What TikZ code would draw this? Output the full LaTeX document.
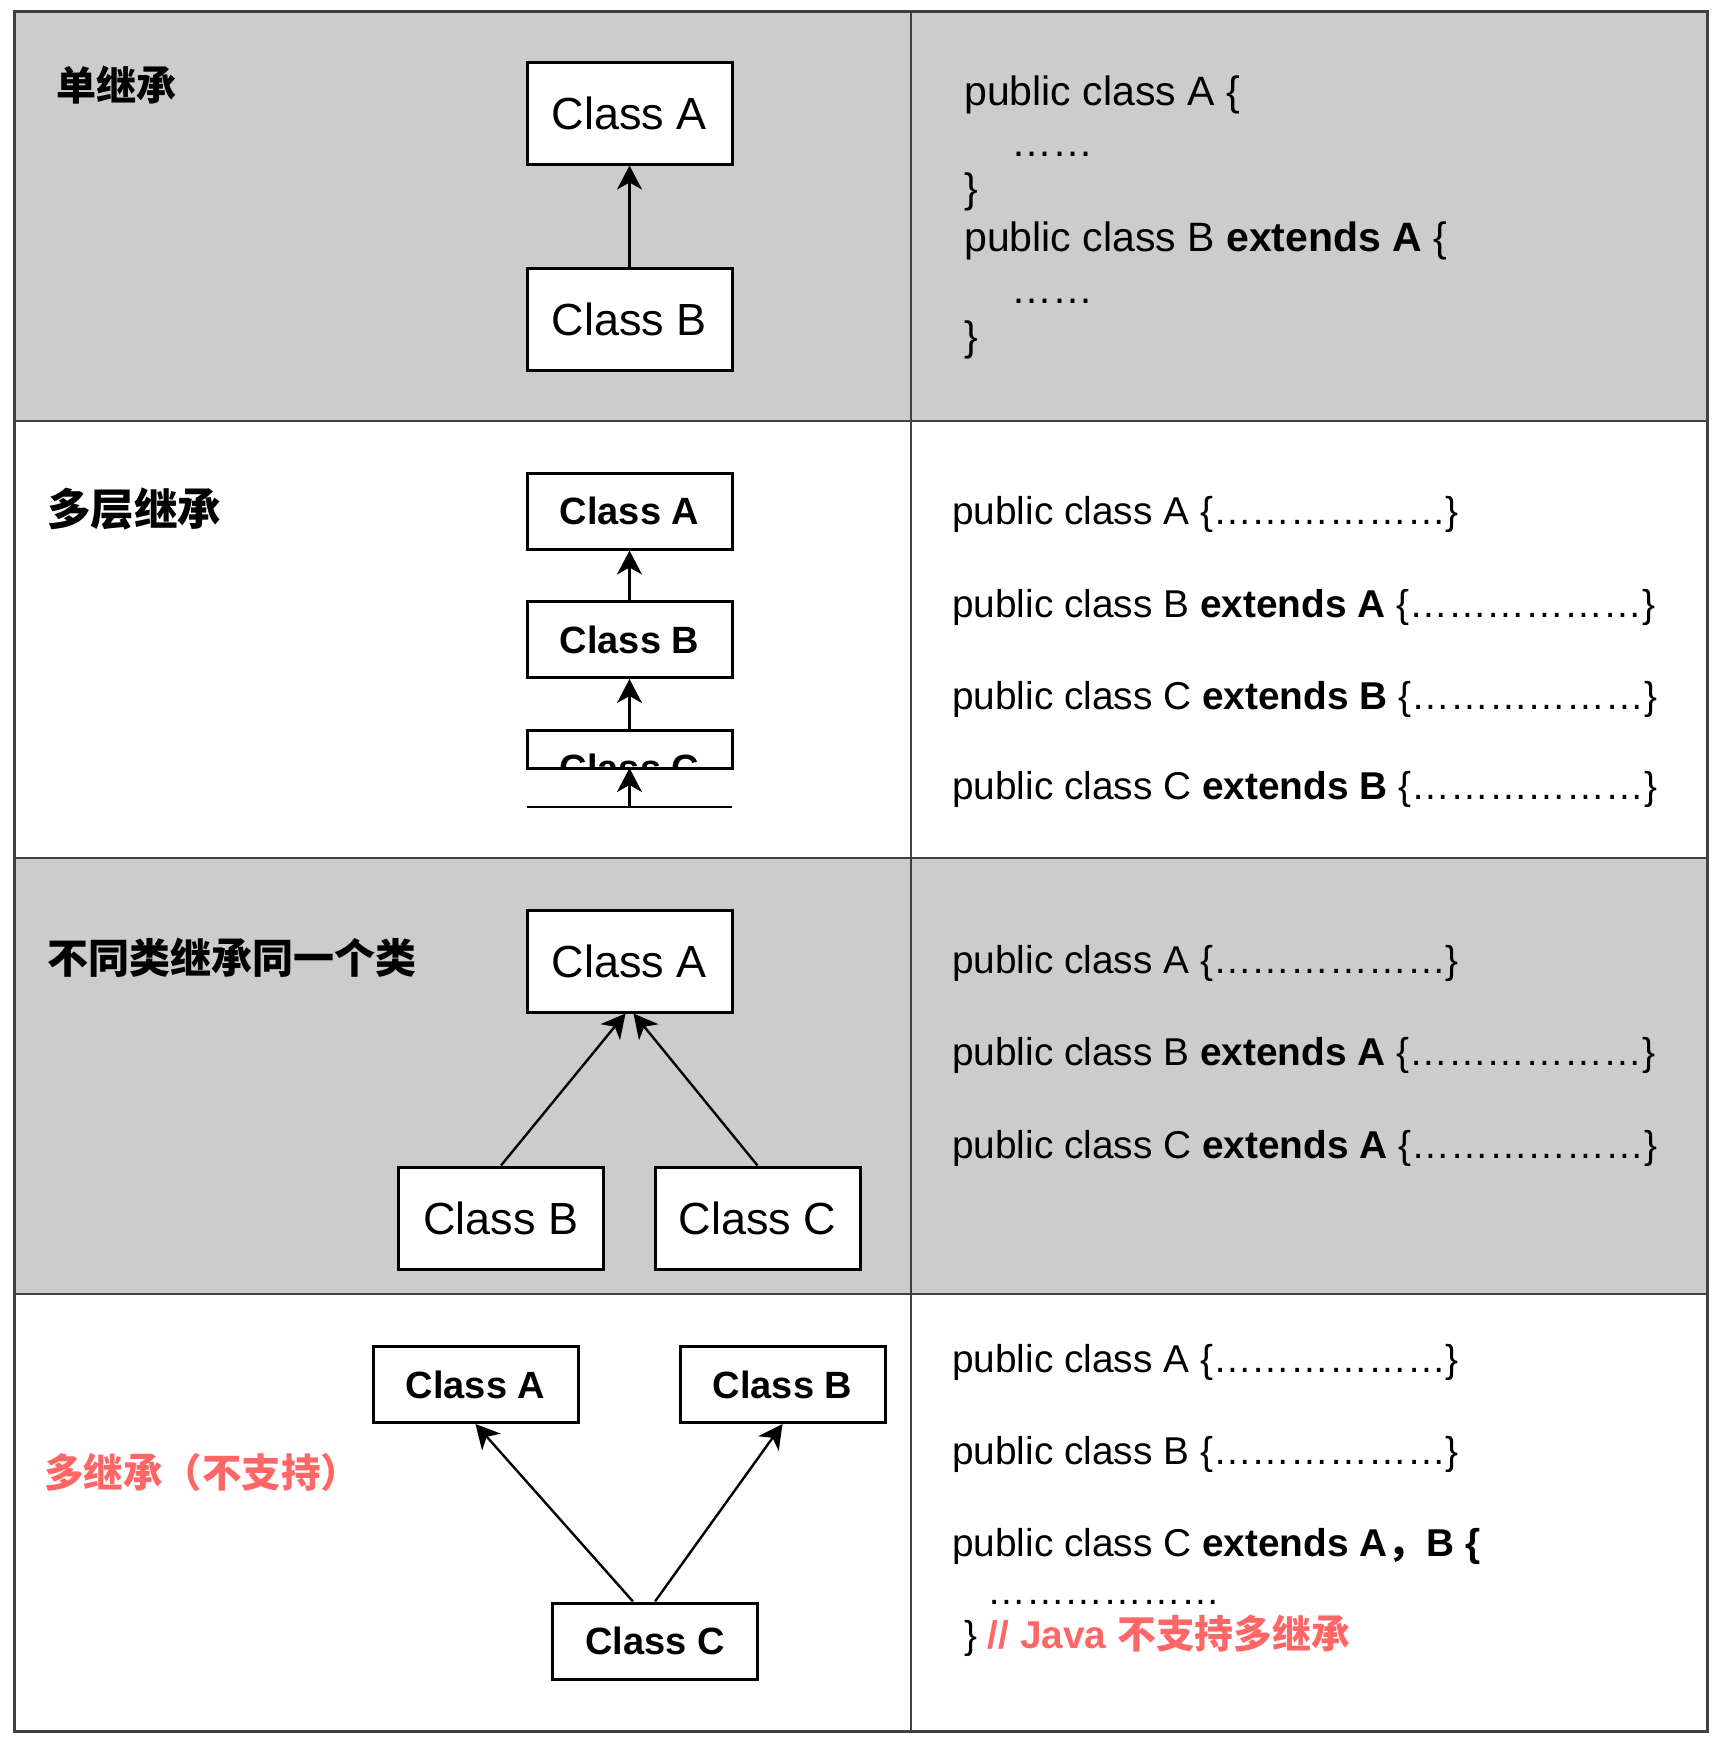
\documentclass[tikz,border=0pt]{standalone}
\usepackage{fontspec}
\setmainfont{Liberation Sans}
\newfontfamily\cjk{Noto Sans CJK SC}
\usetikzlibrary{arrows.meta}
\definecolor{cellgray}{RGB}{204,204,204}
\definecolor{warnred}{RGB}{255,102,102}
\begin{document}
\begin{tikzpicture}[x=1pt,y=-1pt,
    cls/.style={draw, fill=white, line width=3pt, minimum width=205pt, inner sep=0pt},
    big/.style={cls, minimum height=102pt, font=\fontsize{45}{54}\selectfont},
    small/.style={cls, minimum height=76pt, font=\fontsize{38}{46}\selectfont\bfseries},
    inh/.style={-{Stealth[length=24pt,width=25pt,inset=7pt]}, line width=2.4pt},
    code/.style={anchor=base west, inner sep=0pt, font=\fontsize{38.8}{46}\selectfont},
    bigcode/.style={code, font=\fontsize{41}{49}\selectfont},
    title/.style={anchor=west, inner sep=0pt, font=\cjk\bfseries\fontsize{40}{48}\selectfont}]
        \useasboundingbox (0,0) rectangle (1717,1743);

        \fill[cellgray] (14,11) rectangle (1707,421);
        \fill[cellgray] (14,858) rectangle (1707,1294);
        \draw[black!75, line width=2.5pt] (14,421) -- (1707,421);
        \draw[black!75, line width=2.5pt] (14,858) -- (1707,858);
        \draw[black!75, line width=2.5pt] (14,1294) -- (1707,1294);
        \draw[black!75, line width=2.5pt] (911,11) -- (911,1731);
        \draw[black!75, line width=3pt] (14,11) rectangle (1707,1731);

        \node[title] (t-single) at (56,85) {单继承};
        \node[big] (s-a) at (629.5,113) {Class A};
        \node[big] (s-b) at (629.5,319) {Class B};
        \draw[inh] (s-b) -- (s-a);
        \node[bigcode] (s-l1) at (964,105) {public class A \{};
        \node[bigcode] (s-l2) at (1011,156) {……};
        \node[bigcode] (s-l3) at (964,202) {\}};
        \node[bigcode] (s-l4) at (964,251) {public class B \textbf{extends A} \{};
        \node[bigcode] (s-l5) at (1011,303) {……};
        \node[bigcode] (s-l6) at (964,350) {\}};

        \node[title, font=\cjk\bfseries\fontsize{43.5}{50}\selectfont] (t-multi) at (47,509) {多层继承};
        \node[small] (m-a) at (629.5,511) {Class A};
        \node[small] (m-b) at (629.5,639.5) {Class B};
        \begin{scope}
            \clip (520,725) rectangle (740,768);
            \node[small, draw=none, outer sep=0pt] (m-c) at (629.5,768) {Class C};
        \end{scope}
        \draw[line width=3pt] (m-c.west) rectangle (m-c.north east);
        \coordinate (m-d) at (629.5,807);
        \draw[line width=2.5pt] (m-d -| m-c.west) -- (m-d -| m-c.east);
        \draw[inh] (m-b) -- (m-a);
        \draw[inh] (m-c.north) -- (m-b);
        \draw[inh] (m-d) -- (m-c.center);
        \node[code] (m-l1) at (952,524) {public class A \{………………\}};
        \node[code] (m-l2) at (952,617) {public class B \textbf{extends A} \{………………\}};
        \node[code] (m-l3) at (952,709) {public class C \textbf{extends B} \{………………\}};
        \node[code] (m-l4) at (952,799) {public class C \textbf{extends B} \{………………\}};

        \node[title, font=\cjk\bfseries\fontsize{41}{48}\selectfont] (t-same) at (47,958) {不同类继承同一个类};
        \node[big] (h-a) at (629.5,961) {Class A};
        \node[big] (h-b) at (501,1218) {Class B};
        \node[big] (h-c) at (757.5,1218) {Class C};
        \draw[inh] (h-b.north) -- ([xshift=-4pt]h-a.south);
        \draw[inh] (h-c.north) -- ([xshift=4pt]h-a.south);
        \node[code] (h-l1) at (952,973) {public class A \{………………\}};
        \node[code] (h-l2) at (952,1065) {public class B \textbf{extends A} \{………………\}};
        \node[code] (h-l3) at (952,1158) {public class C \textbf{extends A} \{………………\}};

        \node[title, font=\cjk\bfseries\fontsize{39.5}{46}\selectfont, text=warnred] (t-many) at (44,1472) {多继承（不支持）};
        \node[small] (n-a) at (475.5,1384.5) {Class A};
        \node[small] (n-b) at (782.5,1384.5) {Class B};
        \node[small] (n-c) at (655,1641) {Class C};
        \draw[inh] ([xshift=-22pt]n-c.north) -- (n-a.south);
        \draw[inh] (n-c.north) -- (n-b.south);
        \node[code] (n-l1) at (952,1372) {public class A \{………………\}};
        \node[code] (n-l2) at (952,1464) {public class B \{………………\}};
        \node[code] (n-l3) at (952,1556) {public class C \textbf{extends A{\cjk ，}B \{}};
        \node[code] (n-l4) at (987,1604) {………………};
        \node[code] (n-l5) at (964,1648) {\} \textcolor{warnred}{\bfseries // Java {\cjk 不支持多继承}}};
    \end{tikzpicture}
\end{document}
